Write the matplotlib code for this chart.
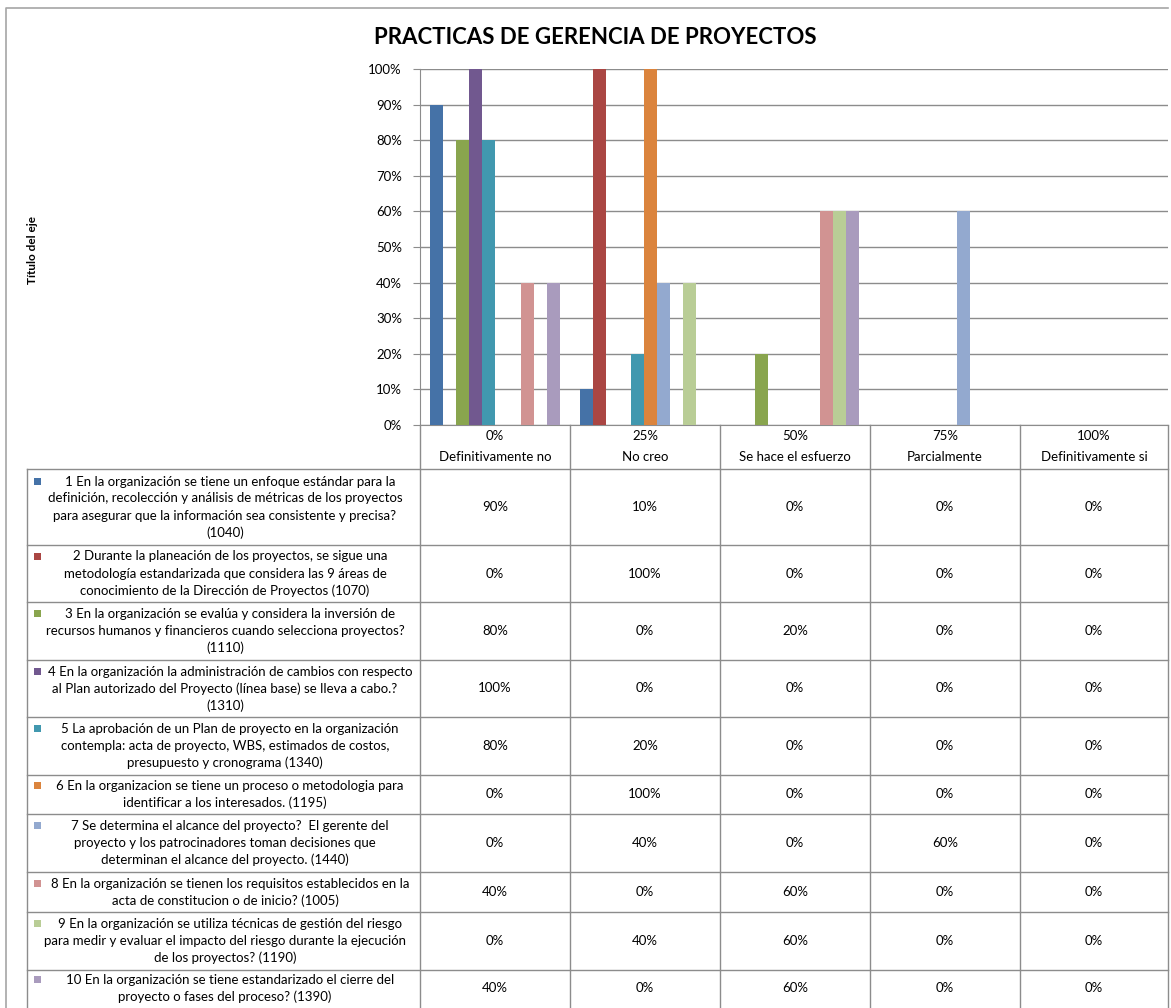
import matplotlib
matplotlib.use("Agg")
import matplotlib.pyplot as plt
import numpy as np

plt.rcParams['font.family'] = ['Lato', 'DejaVu Sans']

title = "PRACTICAS DE GERENCIA DE PROYECTOS"
y_label = "Título del eje"
cat_pct = ["0%", "25%", "50%", "75%", "100%"]
cat_names = ["Definitivamente no", "No creo", "Se hace el esfuerzo", "Parcialmente", "Definitivamente si"]

series_labels = [
    "1 En la organización se tiene un enfoque estándar para la\ndefinición, recolección y análisis de métricas de los proyectos\npara asegurar que la información sea consistente y precisa?\n(1040)",
    "2 Durante la planeación de los proyectos, se sigue una\nmetodología estandarizada que considera las 9 áreas de\nconocimiento de la Dirección de Proyectos (1070)",
    "3 En la organización se evalúa y considera la inversión de\nrecursos humanos y financieros cuando selecciona proyectos?\n(1110)",
    "4 En la organización la administración de cambios con respecto\nal Plan autorizado del Proyecto (línea base) se lleva a cabo.?\n(1310)",
    "5 La aprobación de un Plan de proyecto en la organización\ncontempla: acta de proyecto, WBS, estimados de costos,\npresupuesto y cronograma (1340)",
    "6 En la organizacion se tiene un proceso o metodologia para\nidentificar a los interesados. (1195)",
    "7 Se determina el alcance del proyecto?  El gerente del\nproyecto y los patrocinadores toman decisiones que\ndeterminan el alcance del proyecto. (1440)",
    "8 En la organización se tienen los requisitos establecidos en la\nacta de constitucion o de inicio? (1005)",
    "9 En la organización se utiliza técnicas de gestión del riesgo\npara medir y evaluar el impacto del riesgo durante la ejecución\nde los proyectos? (1190)",
    "10 En la organización se tiene estandarizado el cierre del\nproyecto o fases del proceso? (1390)",
]

s1 = [90, 10, 0, 0, 0]
s2 = [0, 100, 0, 0, 0]
s3 = [80, 0, 20, 0, 0]
s4 = [100, 0, 0, 0, 0]
s5 = [80, 20, 0, 0, 0]
s6 = [0, 100, 0, 0, 0]
s7 = [0, 40, 0, 60, 0]
s8 = [40, 0, 60, 0, 0]
s9 = [0, 40, 60, 0, 0]
s10 = [40, 0, 60, 0, 0]
series_values = [s1, s2, s3, s4, s5, s6, s7, s8, s9, s10]

colors = ["#4572A7", "#AA4643", "#89A54E", "#71588F", "#4198AF",
          "#DB843D", "#93A9CF", "#D19392", "#B9CD96", "#A99BBD"]

W, H = 1171, 1008
fig = plt.figure(figsize=(W / 100, H / 100), dpi=100)
fig.patch.set_facecolor("white")

grid_c = "#8C8C8C"
text_c = "#000000"
fs = 9.5

# overlay axes in pixel coordinates (for table and frame)
axt = fig.add_axes([0, 0, 1, 1], zorder=0)
axt.set_xlim(0, W)
axt.set_ylim(H, 0)
axt.axis("off")

# chart frame
axt.plot([6, 6, 1168], [1012, 8, 8], color="#A6A6A6", lw=1.2)

# plot area
px_l, px_r, py_t, py_b = 420, 1168, 69, 425
ax = fig.add_axes([px_l / W, 1 - py_b / H, (px_r - px_l) / W, (py_b - py_t) / H], zorder=1)
ax.patch.set_alpha(0)
n_cat = len(cat_pct)
n_ser = len(series_values)
x = np.arange(n_cat)
bw = 13 / 150
for i, (vals, c) in enumerate(zip(series_values, colors)):
    ax.bar(x + (i - (n_ser - 1) / 2) * bw, vals, width=bw, color=c, zorder=3, linewidth=0)
ax.set_xlim(-0.5, n_cat - 0.5)
ax.set_ylim(0, 100)
ax.set_yticks(np.arange(0, 101, 10))
ax.set_yticklabels([f"{v}%" for v in range(0, 101, 10)], fontsize=fs, color=text_c)
ax.yaxis.grid(True, color=grid_c, lw=1.0, zorder=0)
ax.set_xticks([])
for s in ["top", "right"]:
    ax.spines[s].set_visible(False)
ax.spines["left"].set_color(grid_c)
ax.spines["bottom"].set_color(grid_c)
ax.tick_params(axis="y", length=5, color=grid_c, pad=8)
ax.set_axisbelow(True)

fig.text(595 / W, 1 - 37 / H, title, ha="center", va="center", fontsize=16, fontweight="bold")
fig.text(33 / W, 1 - 250 / H, y_label, ha="center", va="center", rotation=90, fontsize=8.5, fontweight="bold")

# data table
col_edges = [420 + 150 * k for k in range(n_cat + 1)]
col_edges[-1] = 1168
row_edges = [469, 545, 602, 660, 717, 775, 814, 872, 912, 970, 1010]
table_left = 27
line_h = 17

# header
for k in range(n_cat):
    cx = (col_edges[k] + col_edges[k + 1]) / 2
    axt.text(cx, 436, cat_pct[k], ha="center", va="center", fontsize=fs, color=text_c)
    axt.text(cx, 457, cat_names[k], ha="center", va="center", fontsize=fs, color=text_c)

# vertical lines
for xe in col_edges:
    axt.plot([xe, xe], [py_b, 1010], color=grid_c, lw=1.0)
axt.plot([table_left, table_left], [row_edges[0], 1010], color=grid_c, lw=1.0)
# horizontal lines
for ye in row_edges[:-1]:
    axt.plot([table_left, 1168], [ye, ye], color=grid_c, lw=1.0)

for r in range(n_ser):
    y0, y1 = row_edges[r], row_edges[r + 1]
    if r == n_ser - 1:
        y1 = 1006
    cy = (y0 + y1) / 2
    lines = series_labels[r].split("\n")
    nl = len(lines)
    for li, txt in enumerate(lines):
        ly = cy + (li - (nl - 1) / 2) * line_h
        lx = 230 if li == 0 else 225
        axt.text(lx, ly, txt, ha="center", va="center", fontsize=fs, color=text_c)
    first_y = cy - (nl - 1) * line_h / 2
    axt.add_patch(plt.Rectangle((34, first_y - 4), 7, 7, facecolor=colors[r], edgecolor="none"))
    for k in range(n_cat):
        cx = (col_edges[k] + col_edges[k + 1]) / 2
        axt.text(cx, cy, f"{series_values[r][k]}%", ha="center", va="center", fontsize=fs, color=text_c)

fig.savefig("out.png", dpi=100, facecolor="white")
